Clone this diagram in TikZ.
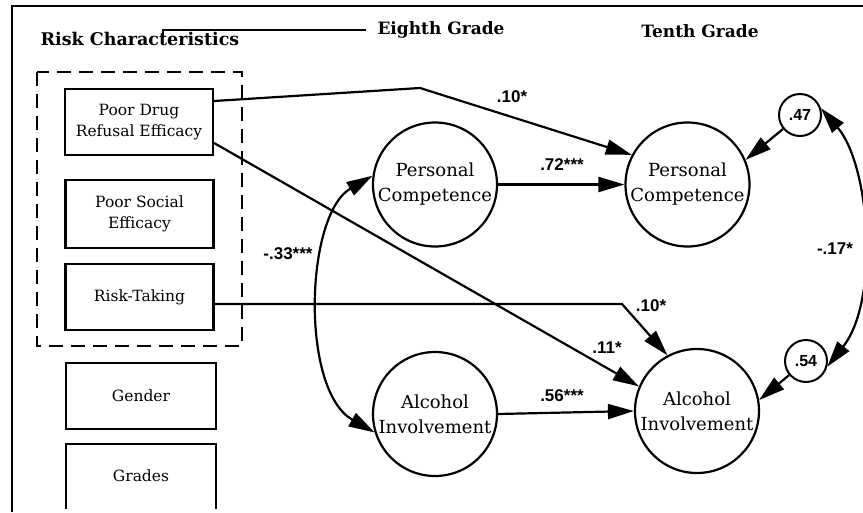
\documentclass[tikz,border=0pt]{standalone}
\usepackage{fontspec}
\setmainfont{DejaVu Serif}
\newfontfamily\numfont{Liberation Sans}
\usetikzlibrary{arrows.meta}
\begin{document}
\begin{tikzpicture}[x=1pt,y=-1pt,
  line width=2.2pt,
  hdr/.style={font=\fontsize{17}{20}\selectfont\bfseries, inner sep=0pt},
  vbox/.style={draw, line width=2.2pt, minimum width=148pt, minimum height=66pt, align=center, font=\fontsize{15.5}{21}\selectfont, inner sep=0pt},
  latent/.style={draw, circle, line width=2.2pt, minimum size=124pt, inner sep=0pt, align=center, font=\fontsize{18}{25}\selectfont},
  resid/.style={draw, circle, line width=2pt, minimum size=42pt, inner sep=0pt, font=\numfont\bfseries\fontsize{16}{18}\selectfont},
  coef/.style={font=\numfont\bfseries\fontsize{17}{20}\selectfont, inner sep=0pt},
  arr/.style={-{Triangle[length=26pt,width=15pt]}, line width=2.2pt},
  darr/.style={{Triangle[length=26pt,width=15pt]}-{Triangle[length=26pt,width=15pt]}, line width=2.2pt},
  grp/.style={line width=2.2pt, dash pattern=on 14pt off 8pt}
]
\useasboundingbox (0,0) rectangle (863,512);
% frame
\draw[line width=2.8pt] (12,512) -- (12,6) -- (863,6);

% headers
\node[hdr, font=\fontsize{17.5}{20}\selectfont\bfseries] (rc) at (140,39) {Risk Characteristics};
\node[hdr] (eg) at (441,30) {Eighth Grade};
\node[hdr] (tg) at (700,31) {Tenth Grade};
\coordinate (brk) at (163,38);
\draw[line width=1.6pt] (brk) -- (163,30) -- ([xshift=-10pt]eg.west);

% risk group
\draw[grp] (37,72) rectangle (242,346);

% observed boxes
\node[vbox] (pd) at (139,122) {Poor Drug\\Refusal Efficacy};
\node[vbox, minimum height=68pt] (ps) at (139.5,214) {Poor Social\\Efficacy};
\node[vbox] (rt) at (139.5,297) {Risk-Taking};
\node[vbox, minimum width=150pt] (gd) at (141,396) {Gender};
\node[font=\fontsize{15.5}{21}\selectfont] (gr) at (141,476) {Grades};
\draw (66,509) -- (66,444) -- (216,444) -- (216,509);

% latent variables
\node[latent] (pe) at (435,184.5) {Personal\\Competence};
\node[latent] (ae) at (435,414) {Alcohol\\Involvement};
\node[latent] (tp) at (687.5,184.5) {Personal\\Competence};
\node[latent] (ta) at (697,411) {Alcohol\\Involvement};
\node[resid] (s47) at (800,115) {.47};
\node[resid] (s54) at (806,361) {.54};

% paths
\coordinate (b1) at (420,88);
\draw[arr] ([yshift=21pt]pd.east) -- (b1) -- (tp.152);
\draw[arr] ([yshift=-21pt]pd.east) -- (ta.157);
\coordinate (b2) at (622,304);
\draw[arr] ([yshift=-7pt]rt.east) -- (b2) -- (ta.118);
\draw[arr] (pe) -- (tp);
\draw[arr] (ae.east) -- (ta.west);
\draw[darr] (pe.172) .. controls (305,215) and (300,390) .. (ae.197);
\draw[arr] (s47) -- (tp.23);
\draw[arr] (s54) -- (ta.10);
\draw[darr] (s47.18) .. controls (870,165) and (880,300) .. (s54.-15);

% coefficients
\node[coef] (l1) at (512,97) {.10*};
\node[coef] (l2) at (562,165) {.72***};
\node[coef] (l3) at (288,254) {-.33***};
\node[coef] (l4) at (651,306) {.10*};
\node[coef] (l5) at (607,348) {.11*};
\node[coef] (l6) at (562,396) {.56***};
\node[coef] (l7) at (835,249) {-.17*};
\end{tikzpicture}
\end{document}
